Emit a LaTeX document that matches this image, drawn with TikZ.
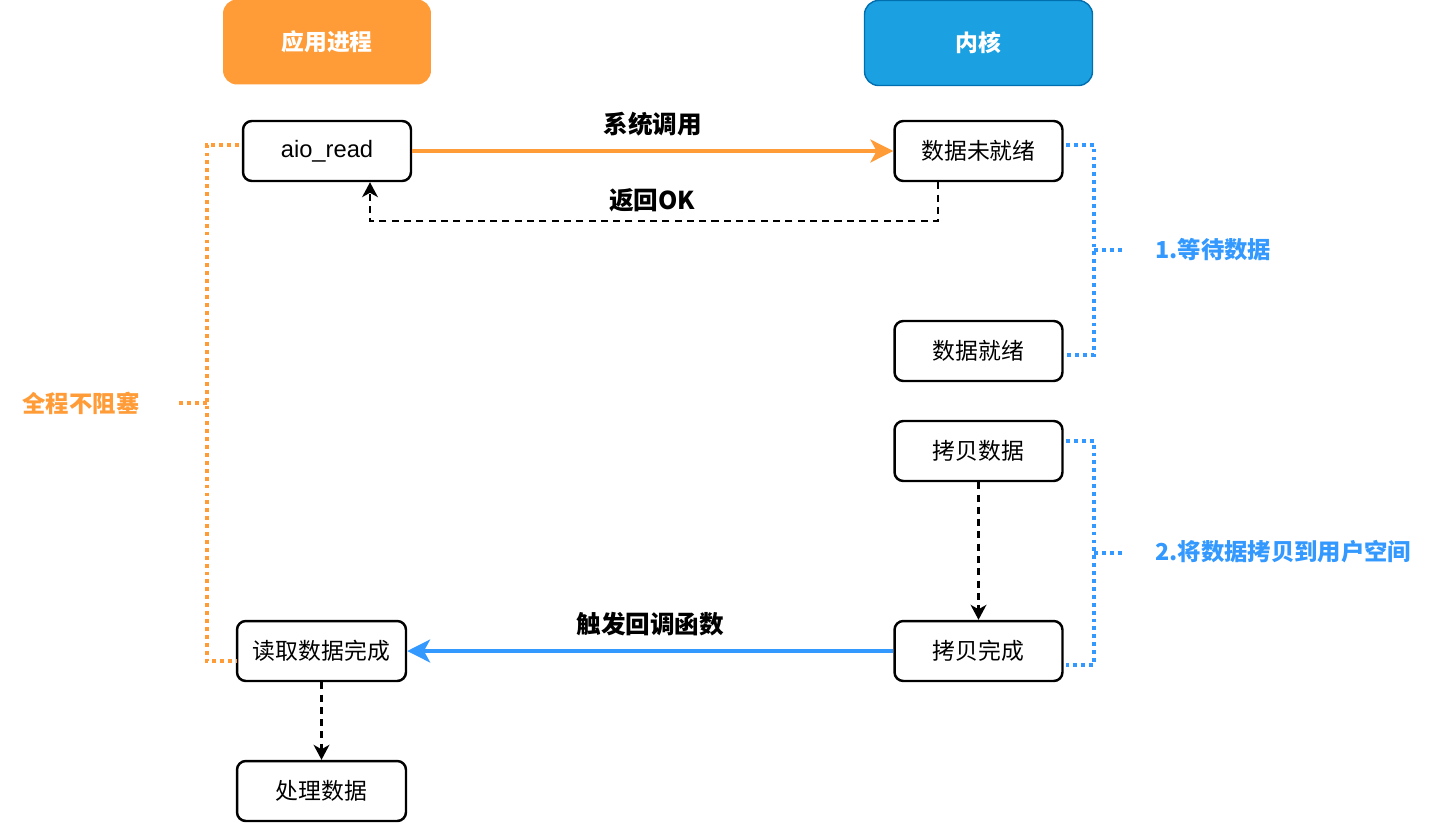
\documentclass[tikz,border=0pt]{standalone}
\usepackage{fontspec}
\usepackage{xcolor}
\usepackage{tikz}
\usetikzlibrary{arrows.meta}
\setmainfont{Noto Sans CJK SC}
\newfontfamily\latinfont{Liberation Sans}
\definecolor{apporange}{HTML}{FF9C38}
\definecolor{kernfill}{HTML}{1BA1E2}
\definecolor{kernline}{HTML}{006EAF}
\definecolor{callblue}{HTML}{3399FF}
\tikzset{
  step box/.style={draw=black, line width=1.4pt, rounded corners=5pt, fill=white,
    minimum width=3.36cm, minimum height=1.2cm, inner sep=0pt, font=\fontsize{13}{15}\selectfont},
  head box/.style={rounded corners=8pt, minimum height=1.7cm, inner sep=0pt,
    text=white, font=\fontsize{13}{15}\selectfont\bfseries},
  label text/.style={font=\fontsize{14}{16}\selectfont\bfseries},
  side text/.style={font=\fontsize{13.3}{16}\selectfont\bfseries},
  dash arrow/.style={draw=black, line width=1.2pt, dash pattern=on 4pt off 3pt,
    -{Stealth[length=8.5pt, width=9pt, inset=2.5pt]}},
  dot line/.style={line width=2.2pt, dash pattern=on 2.2pt off 2.3pt},
}
\begin{document}
\begin{tikzpicture}[x=0.02cm, y=-0.02cm]
  \useasboundingbox (0,0) rectangle (1432,822);
  %两个标题
  \node[head box, fill=apporange, minimum width=4.16cm] (app) at (327,42) {应用进程};
  \node[head box, fill=kernfill, draw=kernline, line width=0.8pt, minimum width=4.56cm] (kernel) at (978.5,43) {内核};
  %应用进程一侧的方框
  \node[step box, font=\latinfont\fontsize{13.5}{15}\selectfont] (aio) at (327,151) {aio\_read};
  \node[step box, minimum width=3.38cm] (done) at (321.5,651) {读取数据完成};
  \node[step box, minimum width=3.38cm] (handle) at (321.5,791) {处理数据};
  %内核一侧的方框
  \node[step box] (notready) at (978.5,151) {数据未就绪};
  \node[step box] (ready) at (978.5,351) {数据就绪};
  \node[step box] (copy) at (978.5,451) {拷贝数据};
  \node[step box] (copied) at (978.5,651) {拷贝完成};
  %系统调用
  \draw[draw=apporange, line width=2.2pt, -{Stealth[length=13pt, width=13pt, inset=3.5pt]}]
    (aio.east) -- (notready.west) node[label text, midway, above=4pt] {系统调用};
  %返回OK
  \coordinate (okR) at (938,221);
  \coordinate (okL) at (370,221);
  \draw[dash arrow] (notready.south -| okR) -- (okR) -- (okL) -- (aio.south -| okL);
  \node[label text] (ok) at (652,200) {返回OK};
  %触发回调
  \draw[draw=callblue, line width=2.2pt, -{Stealth[length=13pt, width=13pt, inset=3.5pt]}]
    (copied.west) -- (done.east) node[label text, midway, above=4pt] {触发回调函数};
  \draw[dash arrow] (copy.south) -- (copied.north);
  \draw[dash arrow] (done.south) -- (handle.north);
  %蓝色点线括号
  \coordinate (w1) at (1094,250);
  \coordinate (w2) at (1094,553);
  \draw[callblue, dot line] (1066,145) -| (w1) |- (1066,355);
  \draw[callblue, dot line] (w1) -- (1124,250);
  \node[side text, text=callblue, anchor=west] (wait) at (1149,250) {1.等待数据};
  \draw[callblue, dot line] (1066,441) -| (w2) |- (1066,665);
  \draw[callblue, dot line] (w2) -- (1124,553);
  \node[side text, text=callblue, anchor=west] (tocopy) at (1149,552) {2.将数据拷贝到用户空间};
  %橙色点线括号
  \coordinate (nb) at (207,403);
  \draw[apporange, dot line] (239,145) -| (nb) |- (237,661);
  \draw[apporange, dot line] (nb) -- (178,403);
  \node[side text, text=apporange] (noblock) at (81,403) {全程不阻塞};
\end{tikzpicture}
\end{document}
